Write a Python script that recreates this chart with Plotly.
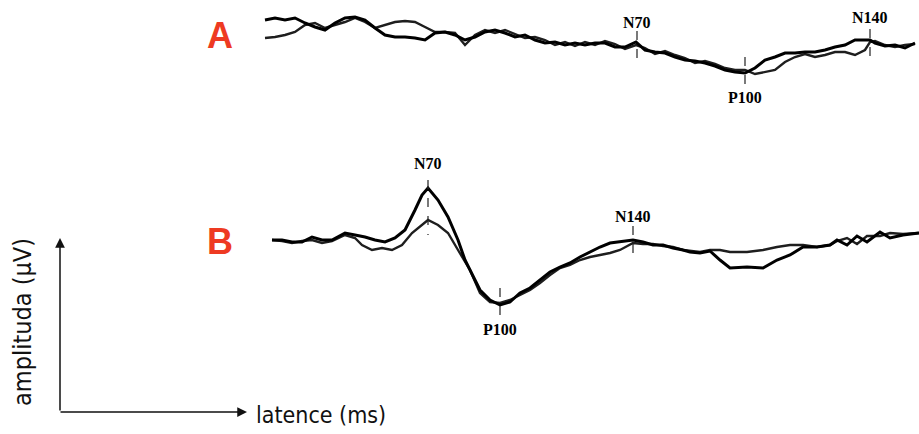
import plotly.graph_objects as go

# ---- Data (latency in chart units, amplitude in chart units; larger = lower) ----
a1_lat = [265, 275, 285, 295, 305, 315, 325, 335, 345, 355, 365, 375, 385, 395, 405, 415, 425, 435, 445,
          455, 465, 475, 485, 495, 505, 515, 525, 535, 545, 555, 565, 575, 585, 595, 605, 615, 625, 636,
          645, 655, 665, 675, 685, 695, 705, 715, 725, 735, 745, 755, 765, 775, 785, 795, 805, 815, 825,
          835, 845, 855, 865, 870, 875, 885, 895, 905, 915]
a1_amp = [20, 18, 20, 18, 23, 27, 30, 23, 18, 17, 20, 28, 35, 37, 37, 38, 40, 33, 32,
          35, 40, 37, 32, 30, 33, 37, 35, 40, 43, 42, 45, 43, 45, 43, 43, 47, 47, 42,
          50, 52, 53, 57, 60, 61, 63, 66, 70, 72, 73, 68, 60, 57, 53, 53, 52, 52, 50,
          47, 45, 40, 40, 40, 43, 46, 45, 48, 43]
a2_lat = a1_lat
a2_amp = [38, 37, 35, 32, 25, 23, 28, 25, 22, 18, 22, 28, 25, 22, 21, 22, 27, 32, 32,
          33, 45, 35, 30, 33, 30, 34, 38, 37, 40, 45, 42, 46, 42, 45, 41, 44, 49, 45,
          48, 54, 51, 55, 58, 63, 61, 64, 68, 70, 70, 74, 72, 70, 62, 57, 54, 57, 55,
          52, 52, 55, 50, 42, 41, 45, 47, 45, 44]

b1_lat = [272, 282, 292, 302, 312, 322, 332, 345, 355, 365, 375, 385, 395, 405, 415, 422, 428, 438,
          448, 458, 465, 470, 480, 490, 500, 510, 520, 530, 540, 550, 560, 570, 580, 590, 600, 610,
          620, 633, 643, 653, 663, 673, 683, 690, 700, 710, 720, 730, 747, 763, 777, 790, 803, 817,
          830, 837, 847, 857, 867, 880, 890, 903, 919]
b1_amp = [240, 240, 242, 242, 237, 240, 240, 233, 235, 237, 240, 242, 238, 230, 210, 195, 188, 200,
          217, 240, 260, 270, 290, 300, 305, 302, 293, 288, 280, 272, 267, 263, 257, 252, 247, 243,
          242, 240, 242, 245, 245, 248, 250, 252, 253, 251, 260, 268, 267, 268, 260, 255, 247, 247,
          245, 240, 245, 236, 242, 232, 238, 235, 233]
b2_lat = [272, 282, 292, 302, 312, 322, 332, 345, 355, 362, 372, 382, 392, 402, 412, 422, 428, 438,
          448, 458, 465, 470, 480, 490, 500, 510, 520, 530, 540, 550, 560, 570, 580, 590, 600, 610,
          620, 633, 643, 653, 663, 673, 683, 690, 700, 710, 720, 730, 747, 763, 777, 790, 803, 817,
          830, 837, 847, 857, 867, 880, 890, 903, 919]
b2_amp = [240, 241, 243, 241, 240, 243, 241, 235, 238, 245, 250, 248, 250, 245, 233, 225, 220, 225,
          233, 250, 262, 270, 293, 302, 303, 300, 295, 290, 283, 275, 268, 265, 260, 257, 255, 253,
          250, 243, 244, 244, 246, 247, 250, 251, 252, 250, 250, 252, 252, 250, 247, 245, 245, 247,
          245, 241, 238, 244, 236, 236, 233, 234, 233]

# peak markers: label, latency, label position, marker extent
peak_labels = ["N70", "P100", "N140", "N70", "P100", "N140"]
peak_lat = [637, 745, 870, 428, 500, 633]
peak_label_amp = [22, 97, 17, 163, 329, 216]
peak_top = [31, 57, 29, 180, 288, 226]
peak_bottom = [64, 88, 56, 235, 318, 256]

panel_labels = ["A", "B"]
panel_label_amp = [35, 241]

fig = go.Figure()
for lat, amp, w, c in [(a2_lat, a2_amp, 2.4, "#1e1e1e"), (a1_lat, a1_amp, 3.0, "#000000"),
                       (b2_lat, b2_amp, 2.4, "#1e1e1e"), (b1_lat, b1_amp, 3.0, "#000000")]:
    fig.add_trace(go.Scatter(x=lat, y=amp, mode="lines", line=dict(color=c, width=w, shape="linear"),
                             hoverinfo="skip", showlegend=False))

for lab, x, ly, t, b in zip(peak_labels, peak_lat, peak_label_amp, peak_top, peak_bottom):
    fig.add_shape(type="line", x0=x, x1=x, y0=t, y1=b, xref="x", yref="y",
                  line=dict(color="#222", width=1.2, dash="dash"))
    fig.add_annotation(x=x, y=ly, text="<b>%s</b>" % lab, showarrow=False, xanchor="center",
                       yanchor="middle", font=dict(family="Liberation Serif", size=16, color="#000"))

for lab, y in zip(panel_labels, panel_label_amp):
    fig.add_annotation(x=220, y=y, text="<b>%s</b>" % lab, showarrow=False, xanchor="center",
                       yanchor="middle", font=dict(family="Liberation Sans", size=36, color="#ee3a22"))

# axis arrows
fig.add_annotation(x=60, y=238, ax=60, ay=412, xref="x", yref="y", axref="x", ayref="y", text="",
                   showarrow=True, arrowhead=2, arrowsize=1.3, arrowwidth=1.5, arrowcolor="#111")
fig.add_annotation(x=247, y=412, ax=59, ay=412, xref="x", yref="y", axref="x", ayref="y", text="",
                   showarrow=True, arrowhead=2, arrowsize=1.3, arrowwidth=1.5, arrowcolor="#111")
fig.add_annotation(x=22, y=322, text="amplituda (μV)", textangle=-90, showarrow=False,
                   xanchor="center", yanchor="middle",
                   font=dict(family="DejaVu Sans Condensed", size=25, color="#111"))
fig.add_annotation(x=254, y=415, text="latence (ms)", showarrow=False, xanchor="left", yanchor="middle",
                   font=dict(family="DejaVu Sans Condensed", size=23, color="#111"))

fig.update_layout(width=919, height=434, margin=dict(l=0, r=0, t=0, b=0),
                  paper_bgcolor="white", plot_bgcolor="white",
                  xaxis=dict(range=[0, 919], visible=False, fixedrange=True),
                  yaxis=dict(range=[434, 0], visible=False, fixedrange=True))
fig.write_html("out.html", config={"displayModeBar": False},
               post_script="document.body.style.margin='0';document.body.style.overflow='hidden';")
